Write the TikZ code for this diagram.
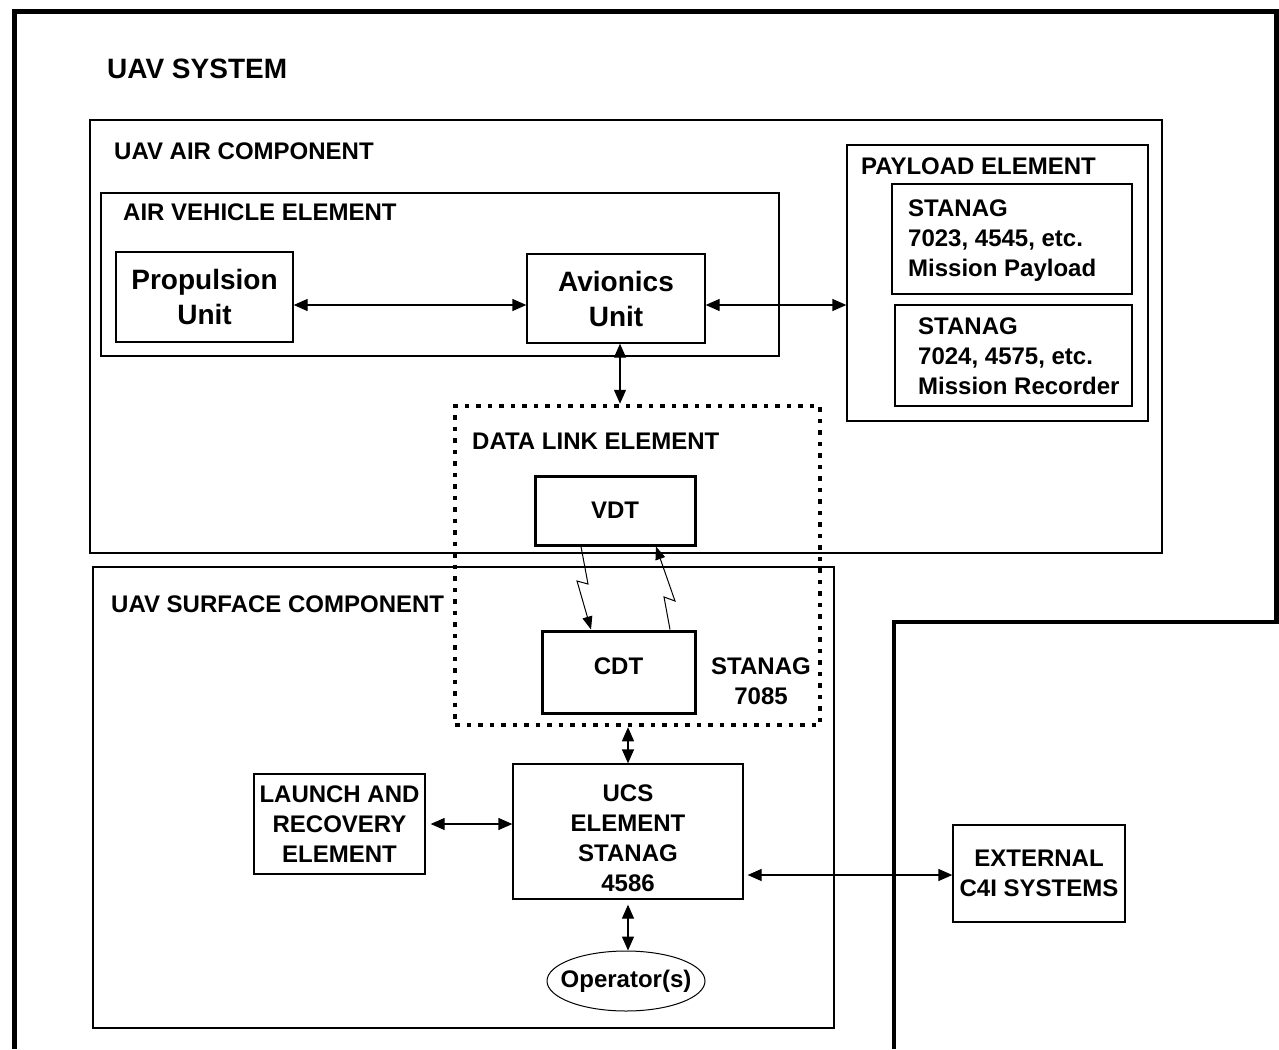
\documentclass[tikz,border=0pt]{standalone}
\usepackage{fontspec}
\setmainfont{Liberation Sans}
\usetikzlibrary{arrows.meta,shapes.geometric,calc}
\begin{document}
\begin{tikzpicture}[x=1pt,y=-1pt,
  box/.style={draw, line width=1.3pt, rectangle, inner sep=0pt},
  thickbox/.style={draw, line width=3pt, rectangle, inner sep=0pt},
  lbl/.style={font=\bfseries\fontsize{24}{30}\selectfont, inner sep=0pt},
  big/.style={font=\bfseries\fontsize{28}{35}\selectfont, inner sep=0pt},
  conn/.style={line width=1.3pt, {Triangle[length=14pt,width=12pt]}-{Triangle[length=14pt,width=12pt]}},
  bolt/.style={line width=1pt, -{Triangle[length=13pt,width=10pt]}},
  border/.style={line width=4.8pt, line join=miter}]
\useasboundingbox (0,0) rectangle (1279,1049);
% outer system border
\draw[border] (14.5,1049) -- (14.5,11.5) -- (1276.5,11.5) -- (1276.5,622) -- (894,622) -- (894,1049);
\node[big, anchor=west] (title) at (107,69) {UAV SYSTEM};

% air component
\node[box, minimum width=1072pt, minimum height=433pt] (air) at (626,336.5) {};
\node[lbl, anchor=west] (airlbl) at (114,151) {UAV AIR COMPONENT};
\node[box, minimum width=678pt, minimum height=163pt] (ave) at (440,274.5) {};
\node[lbl, anchor=west] (avelbl) at (123,212) {AIR VEHICLE ELEMENT};
\node[box, big, align=center, minimum width=177pt, minimum height=90pt] (prop) at (204.5,297) {Propulsion\\Unit};
\node[box, big, align=center, minimum width=178pt, minimum height=89pt] (avion) at (616,298.5) {Avionics\\Unit};

% payload
\node[box, minimum width=301pt, minimum height=276pt] (pay) at (997.5,283) {};
\node[lbl, anchor=west] (paylbl) at (861,166) {PAYLOAD ELEMENT};
\node[box, minimum width=240pt, minimum height=110pt] (pay1) at (1012,239) {};
\node[lbl, anchor=north west, align=left] (pay1t) at (908,199.5) {STANAG\\7023, 4545, etc.\\Mission Payload};
\node[box, minimum width=237pt, minimum height=101pt] (pay2) at (1013.5,355.5) {};
\node[lbl, anchor=north west, align=left] (pay2t) at (918,317.5) {STANAG\\7024, 4575, etc.\\Mission Recorder};

% surface component
\node[box, minimum width=741pt, minimum height=461pt] (surf) at (463.5,797.5) {};
\node[lbl, anchor=west] (surflbl) at (111,604) {UAV SURFACE COMPONENT};

% data link element
\node[draw, line width=4.5pt, dash pattern=on 4.5pt off 7pt, minimum width=365pt, minimum height=319pt, inner sep=0pt] (dle) at (637.5,565.5) {};
\node[lbl, anchor=west] (dlelbl) at (472,441) {DATA LINK ELEMENT};
\node[thickbox, lbl, minimum width=160pt, minimum height=69pt] (vdt) at (615,510.5) {VDT};
\node[thickbox, minimum width=153pt, minimum height=82pt] (cdt) at (618.5,672) {};
\node[lbl] (cdtt) at (618.5,666) {CDT};
\node[lbl, align=center] (stan) at (761,681) {STANAG\\7085};

% ground elements
\node[box, lbl, align=center, minimum width=171pt, minimum height=100pt] (lr) at (339.5,824) {LAUNCH AND\\RECOVERY\\ELEMENT};
\node[box, minimum width=230pt, minimum height=135pt] (ucs) at (628,831.5) {};
\node[lbl, align=center] (ucst) at (628,838) {UCS\\ELEMENT\\STANAG\\4586};
\node[draw, ellipse, line width=1pt, inner sep=0pt, minimum width=158pt, minimum height=60pt] (op) at (626,981) {};
\node[lbl] (opt) at (op.center) {Operator(s)};
\node[box, lbl, align=center, minimum width=172pt, minimum height=97pt] (ext) at (1039,873.5) {EXTERNAL\\C4I SYSTEMS};

% connectors
\draw[conn] ([yshift=-8pt]prop.east) -- ([yshift=-8pt]prop.east -| avion.west);
\draw[conn] ([yshift=-6.5pt]avion.east) -- ([yshift=-6.5pt]avion.east -| pay.west);
\draw[conn] ([xshift=4pt]avion.south) -- ([xshift=4pt]avion.south |- dle.north);
\draw[conn] (ucs.north |- dle.south) -- (ucs.north);
\draw[conn, shorten <=5pt] (lr.east) -- (lr.east -| ucs.west);
\draw[conn, shorten <=4pt] ([yshift=-43.5pt]ucs.east) -- ([yshift=-43.5pt]ucs.east -| ext.west);
\draw[conn, shorten <=5pt] (ucs.south) -- (ucs.south |- op.north);

% radio links
\draw[bolt] ([xshift=-34pt]vdt.south) -- (588,584) -- (577,581) -- ([xshift=-27.5pt]cdt.north);
\draw[bolt] ([xshift=51.5pt]cdt.north) -- (664,597) -- (675,601) -- ([xshift=41pt]vdt.south);
\end{tikzpicture}
\end{document}
